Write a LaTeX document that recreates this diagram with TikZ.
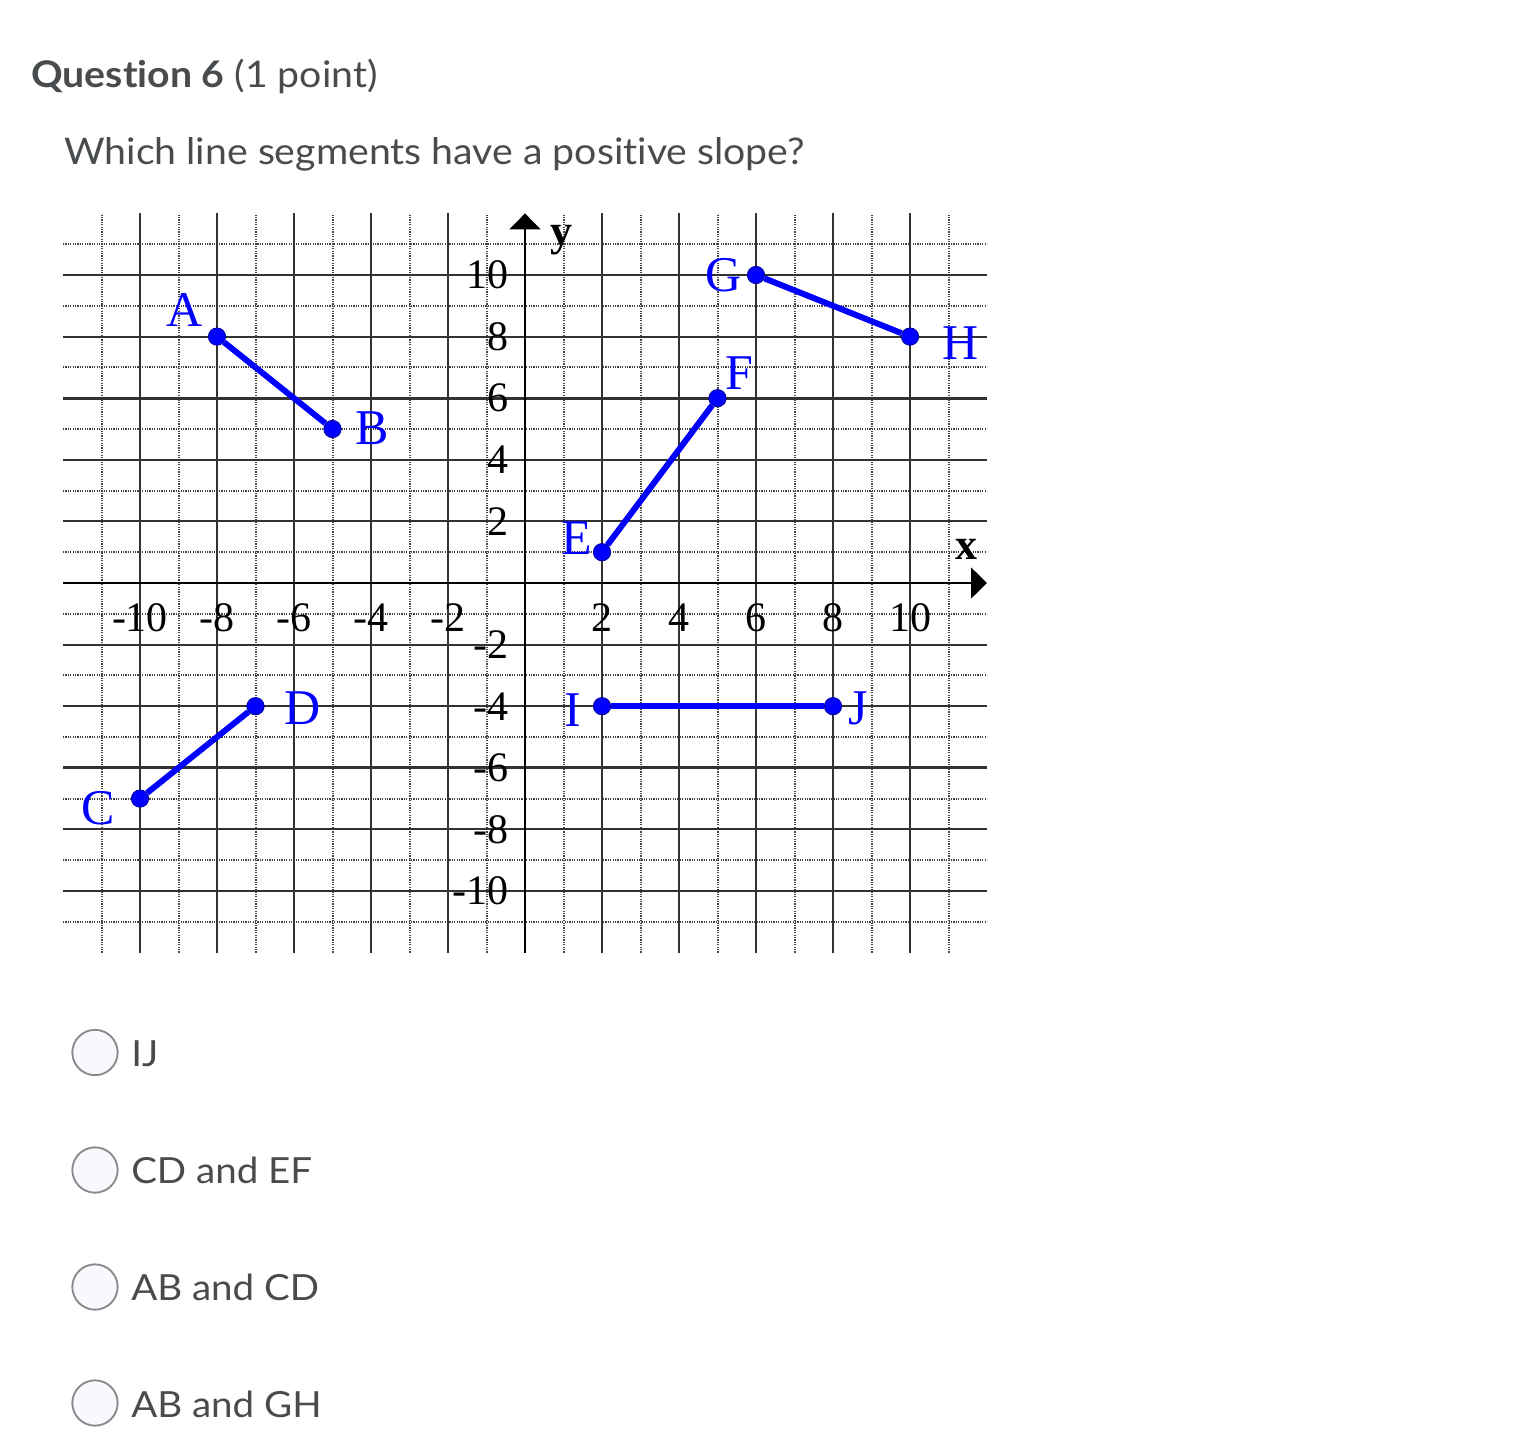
\documentclass[tikz,border=0pt]{standalone}
\usepackage{fontspec}
\setmainfont{Lato}[Ligatures=NoCommon, FakeStretch=1.07]
\newfontfamily\tms{Liberation Serif}
\usetikzlibrary{arrows.meta}
\definecolor{txt}{HTML}{494C4E}
\definecolor{ring}{HTML}{8A8A8A}
\definecolor{ringfill}{HTML}{F8F9FE}
\definecolor{gridc}{HTML}{333333}
\definecolor{dotc}{HTML}{444444}
\definecolor{ptblue}{HTML}{0000FF}
\begin{document}
\begin{tikzpicture}[x=0.75pt,y=-0.75pt,
  dotgrid/.style={draw=dotc, line width=1.5pt, dash pattern=on 0.9pt off 0.9pt},
  solidgrid/.style={draw=gridc, line width=1.5pt},
  axisline/.style={draw=black, line width=2.2pt, -{Triangle[width=23pt,length=12pt]}},
  ticklab/.style={font=\tms\fontsize{31.5}{34}\selectfont, inner sep=0pt, text=black},
  ptlab/.style={font=\tms\fontsize{37.5}{40}\selectfont, inner sep=0pt, text=ptblue},
  axlab/.style={font=\tms\bfseries\fontsize{33}{36}\selectfont, inner sep=0pt, text=black, anchor=base},
  ptdot/.style={circle, fill=ptblue, draw=ptblue!60!black, line width=0.6pt, minimum size=13pt, inner sep=0pt},
  seg/.style={draw=ptblue, line width=4.5pt},
  radio/.style={circle, draw=ring, fill=ringfill, line width=1.4pt, minimum size=34pt, inner sep=0pt},
  opt/.style={font=\fontsize{27}{32}\selectfont, text=txt, inner sep=0pt, anchor=base west},
  head/.style={font=\fontsize{27.5}{32}\selectfont, text=txt, inner sep=0pt, anchor=base west},
]
\fill[white] (0,0) rectangle (1536,1448);
\useasboundingbox (0,0) rectangle (1536,1448);

% header and question
\node[head] (hdr) at (31,88) {\textbf{Question 6} (1 point)};
\node[head] (qtext) at (64,165) {Which line segments have a positive slope?};

% graph
\begin{scope}[shift={(525,583)}, x=28.875pt, y=23.1pt]
  \foreach \i in {-11,-9,...,11} {
    \draw[dotgrid] (\i,-12) -- (\i,12);
    \draw[dotgrid] (-12,\i) -- (12,\i);
  }
  \foreach \i in {-10,-8,-6,-4,-2,2,4,6,8,10} {
    \draw[solidgrid] (\i,-12) -- (\i,12);
    \draw[solidgrid] (-12,\i) -- (12,\i);
  }
  \draw[solidgrid, line width=2.4pt] (-12,6) -- (12,6);
  \draw[solidgrid, line width=2.4pt] (-12,-6) -- (12,-6);
  \draw[axisline] (-12,0) -- (12,0);
  \draw[axisline] (0,-12) -- (0,12);

  \foreach \v [count=\k] in {-10,-8,-6,-4,-2,2,4,6,8,10} {
    \node[ticklab, anchor=base] (xl\k) at (\v,-1.59) {\v};
    \node[ticklab, anchor=east] (yl\k) at (-0.42,\v) {\v};
  }
  \node[axlab] (ylab) at (0.935,10.97) {y};
  \node[axlab] (xlab) at (11.48,0.747) {x};

  \node[ptdot] (A) at (-8,8) {};
  \node[ptdot] (B) at (-5,5) {};
  \node[ptdot] (C) at (-10,-7) {};
  \node[ptdot] (D) at (-7,-4) {};
  \node[ptdot] (E) at (2,1) {};
  \node[ptdot] (F) at (5,6) {};
  \node[ptdot] (G) at (6,10) {};
  \node[ptdot] (H) at (10,8) {};
  \node[ptdot] (I) at (2,-4) {};
  \node[ptdot] (J) at (8,-4) {};
  \draw[seg] (A) -- (B);
  \draw[seg] (C) -- (D);
  \draw[seg] (E) -- (F);
  \draw[seg] (G) -- (H);
  \draw[seg] (I) -- (J);

  \node[ptlab] (lA) at (-8.83,8.86) {A};
  \node[ptlab] (lB) at (-3.97,5.03) {B};
  \node[ptlab] (lC) at (-11.09,-7.31) {C};
  \node[ptlab] (lD) at (-5.79,-4.06) {D};
  \node[ptlab] (lE) at (1.35,1.46) {E};
  \node[ptlab] (lF) at (5.56,6.82) {F};
  \node[ptlab] (lG) at (5.17,10.0) {G};
  \node[ptlab] (lH) at (11.3,7.79) {H};
  \node[ptlab] (lI) at (1.25,-4.12) {I};
  \node[ptlab] (lJ) at (8.65,-4.06) {J};
\end{scope}

% answer options
\node[radio] (r1) at (95,1052.5) {};
\node[opt] (o1) at (131,1066) {IJ};
\node[radio] (r2) at (95,1170) {};
\node[opt] (o2) at (131,1183) {CD and EF};
\node[radio] (r3) at (95,1287) {};
\node[opt] (o3) at (131,1300) {AB and CD};
\node[radio] (r4) at (95,1403) {};
\node[opt] (o4) at (131,1417) {AB and GH};
\end{tikzpicture}
\end{document}
